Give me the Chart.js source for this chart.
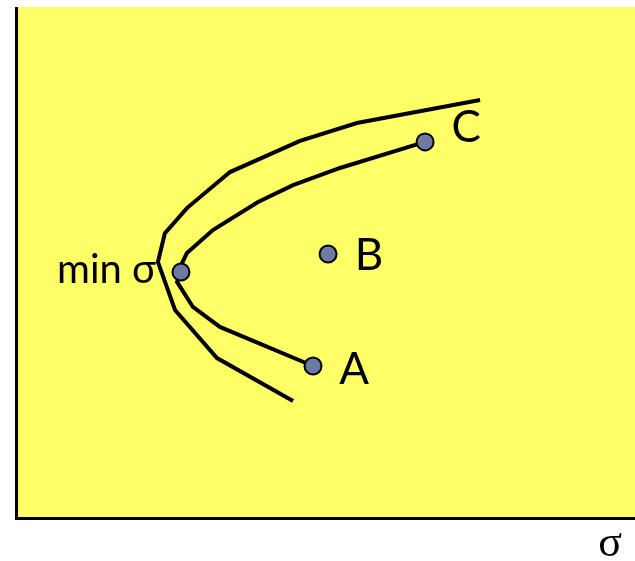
<!DOCTYPE html>
<html><head><meta charset="utf-8">
<script src="https://cdn.jsdelivr.net/npm/chart.js@4.4.1/dist/chart.umd.min.js"></script>
<style>html,body{margin:0;padding:0;background:#fff;}canvas{display:block;}</style>
</head><body>
<canvas id="c" width="635" height="561"></canvas>
<script>
// Outer frontier curve (sigma, return)
const outerSigma  = [22.48, 16.50, 13.74, 10.34, 8.25, 7.18, 6.84, 7.67, 9.71, 13.40];
const outerReturn = [16.36, 15.46, 14.76, 13.54, 12.13, 11.15, 10.02, 8.14, 6.26, 4.58];
// Inner frontier curve from C through min sigma to A
const innerSigma  = [19.81, 15.68, 13.40, 11.70, 9.51, 8.25, 8.01, 7.96, 7.77, 8.54, 9.85, 14.37];
const innerReturn = [14.72, 13.70, 13.03, 12.37, 11.27, 10.37, 9.98, 9.63, 9.24, 8.26, 7.48, 5.95];
// Labelled portfolios
const pointNames  = ["min σ", "A", "B", "C"];
const pointSigma  = [7.96, 14.37, 15.10, 19.81];
const pointReturn = [9.63, 5.95, 10.33, 14.72];
const axisLabel = "σ";

const toXY = (xs, ys) => xs.map((x, i) => ({x: x, y: ys[i]}));

const bgAxes = {
  id: 'bgAxes',
  beforeDraw(chart) {
    const {ctx, chartArea: a} = chart;
    ctx.save();
    ctx.fillStyle = '#FFFF66';
    ctx.fillRect(a.left, a.top, a.right - a.left, a.bottom - a.top);
    ctx.restore();
  },
  afterDraw(chart) {
    const {ctx, chartArea: a} = chart;
    ctx.save();
    ctx.strokeStyle = '#000';
    ctx.lineWidth = 3;
    ctx.beginPath();
    ctx.moveTo(a.left - 0.5, a.top);
    ctx.lineTo(a.left - 0.5, a.bottom + 0.5);
    ctx.lineTo(a.right, a.bottom + 0.5);
    ctx.stroke();
    ctx.fillStyle = '#000';
    ctx.font = '44px "Liberation Serif", serif';
    ctx.textAlign = 'center';
    ctx.textBaseline = 'middle';
    ctx.fillText(axisLabel, 610, 544);
    // point labels
    const xs = chart.scales.x, ys = chart.scales.y;
    ctx.textBaseline = 'middle';
    pointNames.forEach((n, i) => {
      const px = xs.getPixelForValue(pointSigma[i]);
      const py = ys.getPixelForValue(pointReturn[i]);
      if (n === "min σ") {
        ctx.font = '40px Lato, sans-serif';
        ctx.textAlign = 'right';
        ctx.fillText(n, px - 25, py - 2);
      } else {
        ctx.font = '44px Lato, sans-serif';
        ctx.textAlign = 'center';
        const dy = n === 'C' ? -14 : (n === 'A' ? 4 : 2);
        ctx.fillText(n, px + 41, py + dy);
      }
    });
    ctx.restore();
  }
};

new Chart(document.getElementById('c'), {
  type: 'scatter',
  data: {
    datasets: [
      {data: toXY(pointSigma, pointReturn), showLine: false, pointRadius: 8.5, pointHoverRadius: 8.5,
       pointBackgroundColor: '#6E7AA3', pointBorderColor: '#000', pointBorderWidth: 2, order: 0},
      {data: toXY(outerSigma, outerReturn), showLine: true, borderColor: '#000', borderWidth: 4,
       pointRadius: 0, tension: 0, order: 2},
      {data: toXY(innerSigma, innerReturn), showLine: true, borderColor: '#000', borderWidth: 4,
       pointRadius: 0, tension: 0, order: 1}
    ]
  },
  options: {
    responsive: false,
    animation: false,
    layout: {autoPadding: false, padding: {left: 17, top: 7, right: 0, bottom: 43}},
    plugins: {legend: {display: false}, tooltip: {enabled: false}},
    scales: {
      x: {display: false, min: 0, max: 30},
      y: {display: false, min: 0, max: 20}
    }
  },
  plugins: [bgAxes]
});
</script>
</body></html>
